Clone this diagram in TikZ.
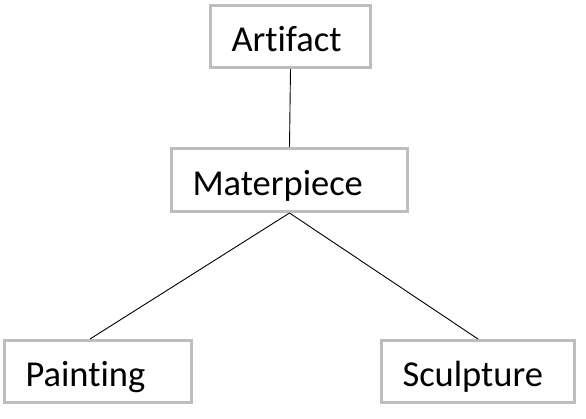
\documentclass[tikz,border=0pt]{standalone}
\usepackage{fontspec}
\setmainfont{Carlito}[Ligatures=NoCommon]
\usetikzlibrary{positioning}
\definecolor{boxgray}{RGB}{190,190,190}

\begin{document}
\begin{tikzpicture}[
    x=1pt, y=-1pt,
    box/.style={draw=boxgray, line width=3pt, fill=white, align=left,
        text width=#1, inner xsep=21pt, minimum height=62pt,
        text height=30pt, text depth=0pt,
        font=\fontsize{36.5}{40}\selectfont},
    link/.style={line width=0.9pt, black}
]
    \useasboundingbox (0,0) rectangle (586,418);

    % Nodes
    \node[box=118pt] (artifact) at (290.5,36.5) {Artifact};
    \node[box=194pt, minimum height=63pt] (masterpiece) at (289.5,180) {Materpiece};
    \node[box=145pt] (painting) at (98,371.5) {Painting};
    \node[box=151pt] (sculpture) at (478,371.5) {Sculpture};

    % Links
    \draw[link] (artifact.south) -- (masterpiece.north);
    \draw[link] (masterpiece.south) -- ([xshift=-8pt]painting.north);
    \draw[link] (masterpiece.south) -- (sculpture.north);
\end{tikzpicture}
\end{document}
